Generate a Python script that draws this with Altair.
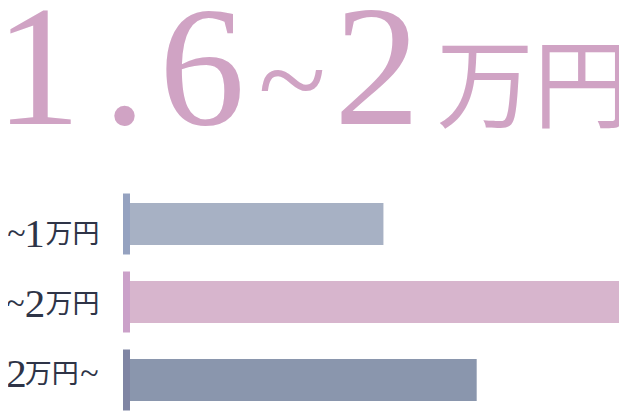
import altair as alt
import pandas as pd

# ---- data ----
categories = ["~1万円", "~2万円", "2万円~"]
values = [23.1, 45.3, 31.6]
bar_colors = ["#a7b1c4", "#d7b5cd", "#8a96ad"]
tick_colors = ["#95a2c0", "#cba1c9", "#7f85a3"]

title_parts = ["1", ".", "6", "~", "2", "万円"]
# label pieces per row
label_tilde = ["~", "~", "~"]
label_digit = ["1", "2", "2"]
label_unit = ["万円", "万円", "万円"]

TITLE_COLOR = "#d0a3c4"
LABEL_COLOR = "#2e3447"
SERIF = "Liberation Serif, DejaVu Serif, serif"
CJK = "Noto Sans CJK JP, sans-serif"

W, H = 611, 403

df = pd.DataFrame({"category": categories, "value": values})

# the longest bar runs off the right edge, as in the reference
xscale = alt.Scale(domain=[0, max(values)], range=[122, 619], nice=False, zero=True)
yscale = alt.Scale(domain=categories, range=[177, 411], paddingInner=0, paddingOuter=0)

base = alt.Chart(df)

bars = base.mark_bar(height=42).encode(
    x=alt.X("value:Q", scale=xscale, axis=None),
    y=alt.Y("category:N", scale=yscale, axis=None, sort=categories),
    color=alt.Color("category:N", scale=alt.Scale(domain=categories, range=bar_colors), legend=None),
)

ticks = base.mark_tick(thickness=7, size=61, xOffset=-3.5, opacity=1, orient="vertical").encode(
    x=alt.X("zero:Q", scale=xscale, axis=None),
    y=alt.Y("category:N", scale=yscale, axis=None, sort=categories),
    color=alt.Color("category:N", scale=alt.Scale(domain=categories, range=tick_colors), legend=None),
).transform_calculate(zero="0")

one = pd.DataFrame({"k": [0]})


def txt(text, x, y, size, font, color, align="center"):
    return alt.Chart(one).mark_text(
        text=text, font=font, fontSize=size, color=color, align=align, baseline="alphabetic"
    ).encode(x=alt.value(x), y=alt.value(y))


layers = [bars, ticks]

# title pieces
t_x = [30, 116.5, 194, 284, 369]
t_y = [116, 116, 116, 113.5, 116]
t_size = [172, 172, 172, 125, 172]
for part, x, y, s in zip(title_parts[:5], t_x, t_y, t_size):
    layers.append(txt(part, x, y, s, SERIF, TITLE_COLOR))
layers.append(txt(title_parts[5], 428.5, 111.5, 97, CJK, TITLE_COLOR, align="left"))

# row labels: rows 1 & 2 are "~" + digit + unit
rows_y = [(235.5, 239, 235), (305.5, 309, 305)]
for i, (ty, dy_, uy) in enumerate(rows_y):
    layers.append(txt(label_tilde[i], 8.5 - i, ty, 34, SERIF, LABEL_COLOR))
    layers.append(txt(label_digit[i], 26.5 + 0.5 * i, dy_, 41, SERIF, LABEL_COLOR))
    layers.append(txt(label_unit[i], 37.6, uy, 27, CJK, LABEL_COLOR, align="left"))
# row 3 is digit + unit + "~"
layers.append(txt(label_digit[2], 8.5, 379, 41, SERIF, LABEL_COLOR))
layers.append(txt(label_unit[2], 16.7, 375, 27, CJK, LABEL_COLOR, align="left"))
layers.append(txt(label_tilde[2], 81.5, 376, 34, SERIF, LABEL_COLOR))

chart = alt.layer(*layers).resolve_scale(color="independent").properties(
    width=W,
    height=H,
    padding=0,
    autosize=alt.AutoSizeParams(type="none"),
    background="white",
).configure_view(stroke=None)

chart.save("out.html", embed_options={"renderer": "svg", "actions": False})
